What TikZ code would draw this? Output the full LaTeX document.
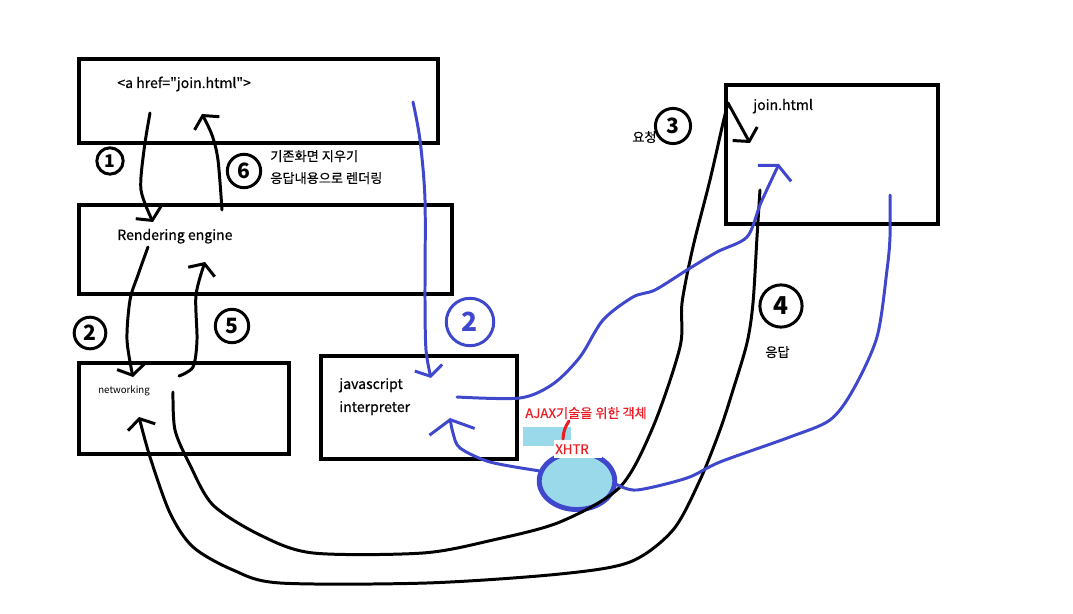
\documentclass[tikz,border=0pt]{standalone}
\usepackage{fontspec}
\newfontfamily\kr[FakeBold=0.5]{Noto Sans CJK KR}
\newfontfamily\krthin{Noto Sans CJK KR}
\usetikzlibrary{arrows.meta,fit,shapes.geometric}
\definecolor{penblue}{HTML}{3F48CC}
\definecolor{penred}{HTML}{ED1C24}
\definecolor{skyfill}{HTML}{99D9EA}
\tikzset{
  frame style/.style={draw, line width=2.8pt, inner sep=0pt},
  low frame style/.style={draw, line width=2.3pt, inner sep=0pt},
  lbl style/.style={anchor=base west, inner sep=0pt, font=\kr\fontsize{8}{9}\selectfont},
  kor style/.style={anchor=base west, inner sep=0pt, font=\kr\fontsize{7.5}{9}\selectfont},
  pen style/.style={line width=1.7pt, line cap=round, line join=round},
  barb/.style={-{Straight Barb[length=5pt,width=16pt]}},
  num style/.style={circle, draw, line width=1.7pt, inner sep=0pt, font=\krthin\bfseries\fontsize{12}{12}\selectfont}
}

\begin{document}
\begin{tikzpicture}[x=0.02cm, y=-0.02cm]
\useasboundingbox (0,0) rectangle (1073,614);
% boxes
\node[frame style, fit={(79,59) (438,143)}] (page) {};
\node[frame style, fit={(79,205) (452,294)}] (render) {};
\node[low frame style, fit={(79,363) (289,454)}] (net) {};
\node[low frame style, fit={(321,356) (517,459)}] (js) {};
\node[frame style, fit={(726,85) (938,224)}] (join) {};
% texts
\node[lbl style] (href) at (117,88) {<a href="join.html">};
\node[lbl style] (rtxt) at (117,240) {Rendering engine};
\node[lbl style, font=\krthin\fontsize{5.5}{6}\selectfont] (ntxt) at (98,394) {networking};
\node[lbl style] (jtxt1) at (339,389) {javascript};
\node[lbl style] (jtxt2) at (339,412) {interpreter};
\node[lbl style] (jname) at (753,110) {join.html};
\node[kor style] (erase) at (270,161) {기존화면 지우기};
\node[kor style] (redraw) at (270,183) {응답내용으로 렌더링};
\node[kor style] (req) at (632,142) {요청};
\node[kor style] (resp) at (765,357) {응답};
% xhr object
\node[fill=skyfill, inner sep=0pt, fit={(523,427) (571,446)}] (cyan) {};
\node[ellipse, draw=penblue, line width=2.8pt, fill=skyfill, minimum width=43pt, minimum height=32.5pt, inner sep=0pt] (xhtr) at (577,481) {};
\node[fill=white, inner sep=0pt, fit={(554,440) (602,458)}] (xbg) {};
\node[kor style, text=penred] (xlbl) at (555,454) {XHTR};
\node[kor style, text=penred] (ajax) at (525,418) {AJAX기술을 위한 객체};
\coordinate (pa) at (563,439);
\coordinate (pb) at (569,421);
\draw[pen style, penred] (pa) to[bend left=15] (pb);
% step numbers
\node[num style, minimum size=15pt, font=\krthin\bfseries\fontsize{10}{10}\selectfont] (n1) at (110,161) {1};
\node[num style, minimum size=19pt] (n6) at (244,171) {6};
\node[num style, minimum size=18pt] (n2) at (90,333) {2};
\node[num style, minimum size=19pt] (n5) at (232,326) {5};
\node[num style, minimum size=27pt, draw=penblue, text=penblue, font=\krthin\bfseries\fontsize{15}{15}\selectfont] (n2b) at (470,322) {2};
\node[num style, minimum size=20pt] (n3) at (673,126) {3};
\node[num style, minimum size=24pt, font=\krthin\bfseries\fontsize{14}{14}\selectfont] (n4) at (781,306) {4};
% black strokes
\coordinate (s1a) at (150,113); \coordinate (s1b) at (153,222);
\coordinate (s6a) at (222,210); \coordinate (s6b) at (202,114);
\coordinate (s2a) at (148,247); \coordinate (s2b) at (133,377);
\coordinate (s5a) at (179,376); \coordinate (s5b) at (205,262);
\coordinate (reqa) at (173,392); \coordinate (reqb) at (750,143);
\coordinate (resa) at (760,190); \coordinate (resb) at (139,417);
\draw[pen style, barb] plot[smooth] coordinates {(s1a) (144,150) (141,190) (s1b)};
\draw[pen style, barb] plot[smooth] coordinates {(s6a) (218,160) (212,135) (s6b)};
\draw[pen style, barb] plot[smooth] coordinates {(s2a) (138,275) (130,300) (127,340) (s2b)};
\draw[pen style, barb] plot[smooth] coordinates {(s5a) (193,367) (197,340) (196,295) (s5b)};
\draw[pen style, barb] plot[smooth] coordinates {(reqa) (175,430) (190,465) (213,505) (260,535) (313,553) (423,553) (493,540) (560,522) (620,487) (653,427) (680,347) (682,303) (693,247) (710,180) (723,123) (728,103)} -- (reqb);
\draw[pen style, barb] plot[smooth] coordinates {(resa) (757,237) (753,303) (747,343) (733,390) (720,430) (700,480) (673,530) (630,562) (560,574) (427,583) (280,583) (233,570) (193,547) (170,513) (150,457) (resb)};
% blue strokes
\coordinate (jsa) at (413,102); \coordinate (jsb) at (431,378);
\coordinate (senda) at (457,397); \coordinate (sendb) at (779,164);
\coordinate (backa) at (890,195); \coordinate (backb) at (450,418);
\draw[pen style, penblue, barb] plot[smooth] coordinates {(jsa) (420,140) (425,200) (425,300) (426,350) (jsb)};
\draw[pen style, penblue, -{Straight Barb[length=5pt,width=21pt]}] plot[smooth] coordinates {(senda) (520,398) (553,384) (580,357) (603,320) (633,297) (655,290) (687,270) (717,252) (747,237) (760,205) (770,183) (sendb)};
\draw[pen style, penblue] plot[smooth] coordinates {(backa) (890,237) (887,270) (877,337) (853,390) (830,420) (790,437) (720,462) (687,478) (637,490) (xhtr.355)};
\draw[pen style, penblue, -{Straight Barb[length=7pt,width=26pt]}] plot[smooth] coordinates {(xhtr.165) (490,462) (460,448) (453,433) (backb)};
\end{tikzpicture}
\end{document}
